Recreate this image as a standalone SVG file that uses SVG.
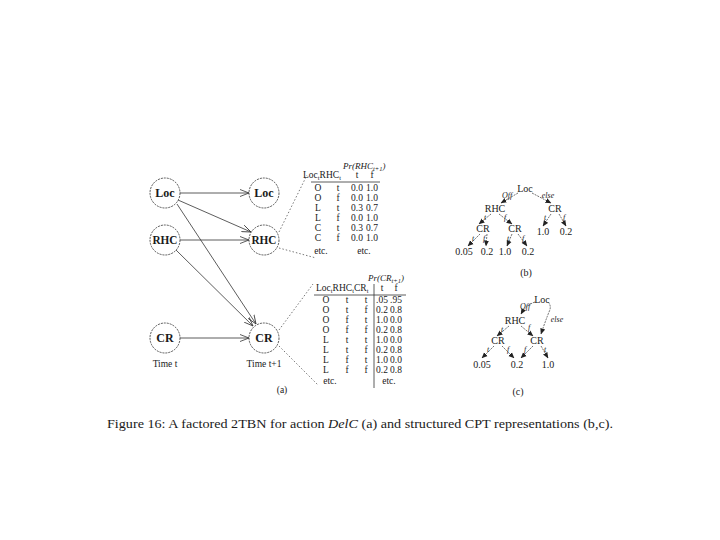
<svg xmlns="http://www.w3.org/2000/svg" width="720" height="540" viewBox="0 0 720 540">
<defs>
<style>
text{font-family:"Liberation Serif","DejaVu Serif",serif;fill:#1a1a1a}
.node circle{fill:#fff;stroke:#444;stroke-width:0.9;stroke-dasharray:2 1}
.nl{font-size:12px;text-anchor:middle;font-weight:bold}
.tb{font-size:9.5px;text-anchor:middle}
.tt{font-size:9px;font-style:italic}
.sub{font-size:6.5px}
.lab{font-size:8px;font-style:italic;text-anchor:middle}
.tv{font-size:10px;text-anchor:middle}
.e{stroke:#333;stroke-width:0.8;fill:none}
.dot{stroke:#555;stroke-width:0.8;stroke-dasharray:1.5 2;fill:none}
.te{stroke:#333;stroke-width:0.7;fill:none;stroke-dasharray:2 1}
</style>
<marker id="av" markerWidth="10" markerHeight="8" refX="9" refY="4" orient="auto" markerUnits="userSpaceOnUse">
<path d="M0,0.5 L9,4 L0,7.5" fill="none" stroke="#333" stroke-width="0.8"/>
</marker>
<marker id="af" markerWidth="6" markerHeight="6" refX="5.5" refY="3" orient="auto" markerUnits="userSpaceOnUse">
<path d="M0,0.5 L6,3 L0,5.5 z" fill="#222"/>
</marker>
</defs>
<rect width="720" height="540" fill="#fff"/>

<g id="connectors">
<line class="e" x1="180" y1="193" x2="249" y2="193" marker-end="url(#av)"/>
<line class="e" x1="178" y1="200" x2="251" y2="232" marker-end="url(#av)"/>
<line class="e" x1="177" y1="204" x2="256" y2="324" marker-end="url(#av)"/>
<line class="e" x1="180" y1="240" x2="249" y2="240" stroke-width="1.3" marker-end="url(#av)"/>
<line class="e" x1="176" y1="250" x2="253" y2="326" marker-end="url(#av)"/>
<line class="e" x1="180" y1="338" x2="249" y2="338" marker-end="url(#av)"/>
<line class="dot" x1="279" y1="232" x2="307" y2="175"/>
<line class="dot" x1="279" y1="248" x2="316" y2="258"/>
<line class="dot" x1="279" y1="330" x2="313" y2="284"/>
<line class="dot" x1="279" y1="346" x2="318" y2="385"/>
</g>

<g id="node-loc-t" class="node"><circle cx="165" cy="193" r="15"/><text class="nl" x="165" y="197">Loc</text></g>
<g id="node-rhc-t" class="node"><circle cx="165" cy="240" r="15"/><text class="nl" x="165" y="244" textLength="25" lengthAdjust="spacingAndGlyphs">RHC</text></g>
<g id="node-cr-t" class="node"><circle cx="165" cy="338" r="15"/><text class="nl" x="165" y="342">CR</text></g>
<g id="node-loc-t1" class="node"><circle cx="264" cy="193" r="15"/><text class="nl" x="264" y="197">Loc</text></g>
<g id="node-rhc-t1" class="node"><circle cx="264" cy="240" r="15"/><text class="nl" x="264" y="244" textLength="25" lengthAdjust="spacingAndGlyphs">RHC</text></g>
<g id="node-cr-t1" class="node"><circle cx="264" cy="338" r="15"/><text class="nl" x="264" y="342">CR</text></g>
<text class="tb" x="165" y="367" font-size="10">Time t</text>
<text class="tb" x="264" y="367" font-size="10">Time t+1</text>
<text class="tb" x="282" y="393" font-size="11">(a)</text>

<g id="table-rhc">
<text class="tt" x="343" y="169">Pr(RHC<tspan class="sub" dy="2">t+1</tspan><tspan dy="-2">)</tspan></text>
<text x="303" y="178" font-size="9.5">Loc<tspan class="sub" dy="2">t</tspan><tspan dy="-2">RHC</tspan><tspan class="sub" dy="2">t</tspan></text>
<text class="tb" x="357" y="178">t</text><text class="tb" x="372" y="178">f</text>
<line x1="311" y1="182" x2="380" y2="182" stroke="#333" stroke-width="0.8"/>
<g class="tb">
<text x="318" y="191">O</text><text x="338" y="191">t</text><text x="357" y="191">0.0</text><text x="372" y="191">1.0</text>
<text x="318" y="201">O</text><text x="338" y="201">f</text><text x="357" y="201">0.0</text><text x="372" y="201">1.0</text>
<text x="318" y="211">L</text><text x="338" y="211">t</text><text x="357" y="211">0.3</text><text x="372" y="211">0.7</text>
<text x="318" y="221">L</text><text x="338" y="221">f</text><text x="357" y="221">0.0</text><text x="372" y="221">1.0</text>
<text x="318" y="231">C</text><text x="338" y="231">t</text><text x="357" y="231">0.3</text><text x="372" y="231">0.7</text>
<text x="318" y="241">C</text><text x="338" y="241">f</text><text x="357" y="241">0.0</text><text x="372" y="241">1.0</text>
<text x="321" y="254">etc.</text><text x="364" y="254">etc.</text>
</g>
</g>

<g id="table-cr">
<text class="tt" x="368" y="281">Pr(CR<tspan class="sub" dy="2">t+1</tspan><tspan dy="-2">)</tspan></text>
<text x="316" y="291" font-size="9.5">Loc<tspan class="sub" dy="2">t</tspan><tspan dy="-2">RHC</tspan><tspan class="sub" dy="2">t</tspan><tspan dy="-2">CR</tspan><tspan class="sub" dy="2">t</tspan></text>
<text class="tb" x="382" y="291">t</text><text class="tb" x="396" y="291">f</text>
<line x1="314" y1="295" x2="406" y2="295" stroke="#333" stroke-width="0.8"/>
<line x1="374" y1="284" x2="374" y2="388" stroke="#333" stroke-width="0.8"/>
<g class="tb">
<text x="326" y="303">O</text><text x="347" y="303">t</text><text x="366" y="303">t</text><text x="382" y="303">.05</text><text x="396" y="303">.95</text>
<text x="326" y="313">O</text><text x="347" y="313">t</text><text x="366" y="313">f</text><text x="382" y="313">0.2</text><text x="396" y="313">0.8</text>
<text x="326" y="323">O</text><text x="347" y="323">f</text><text x="366" y="323">t</text><text x="382" y="323">1.0</text><text x="396" y="323">0.0</text>
<text x="326" y="333">O</text><text x="347" y="333">f</text><text x="366" y="333">f</text><text x="382" y="333">0.2</text><text x="396" y="333">0.8</text>
<text x="326" y="343">L</text><text x="347" y="343">t</text><text x="366" y="343">t</text><text x="382" y="343">1.0</text><text x="396" y="343">0.0</text>
<text x="326" y="353">L</text><text x="347" y="353">t</text><text x="366" y="353">f</text><text x="382" y="353">0.2</text><text x="396" y="353">0.8</text>
<text x="326" y="363">L</text><text x="347" y="363">f</text><text x="366" y="363">t</text><text x="382" y="363">1.0</text><text x="396" y="363">0.0</text>
<text x="326" y="373">L</text><text x="347" y="373">f</text><text x="366" y="373">f</text><text x="382" y="373">0.2</text><text x="396" y="373">0.8</text>
<text x="330" y="384">etc.</text><text x="389" y="384">etc.</text>
</g>
</g>

<g id="tree-b">
<text class="tv" x="525" y="192">Loc</text>
<text class="lab" x="507" y="198">Off</text><text class="lab" x="548" y="198">else</text>
<text class="tv" x="495" y="212">RHC</text><text class="tv" x="555" y="212">CR</text>
<text class="tv" x="483" y="232">CR</text><text class="tv" x="515" y="232">CR</text>
<text class="tv" x="543" y="235">1.0</text><text class="tv" x="566" y="235">0.2</text>
<text class="tv" x="464" y="255">0.05</text><text class="tv" x="487" y="255">0.2</text>
<text class="tv" x="505" y="255">1.0</text><text class="tv" x="528" y="255">0.2</text>
<g class="te">
<line x1="518" y1="193" x2="501" y2="203" marker-end="url(#af)"/>
<line x1="532" y1="193" x2="551" y2="203" marker-end="url(#af)"/>
<line x1="491" y1="214" x2="479" y2="224" marker-end="url(#af)"/>
<line x1="499" y1="214" x2="512" y2="224" marker-end="url(#af)"/>
<line x1="551" y1="214" x2="543" y2="226" marker-end="url(#af)"/>
<line x1="559" y1="214" x2="566" y2="226" marker-end="url(#af)"/>
<line x1="480" y1="234" x2="468" y2="246" marker-end="url(#af)"/>
<line x1="487" y1="234" x2="486" y2="246" marker-end="url(#af)"/>
<line x1="512" y1="234" x2="507" y2="246" marker-end="url(#af)"/>
<line x1="518" y1="234" x2="527" y2="246" marker-end="url(#af)"/>
</g>
<text class="lab" x="485" y="220">t</text><text class="lab" x="505" y="220">f</text>
<text class="lab" x="545" y="220">t</text><text class="lab" x="564" y="220">f</text>
<text class="lab" x="473" y="241">t</text><text class="lab" x="484" y="241">f</text>
<text class="lab" x="508" y="241">t</text><text class="lab" x="523" y="241">f</text>
<text class="tv" x="526" y="276" font-size="11">(b)</text>
</g>

<g id="tree-c">
<text class="tv" x="542" y="303">Loc</text>
<text class="lab" x="525" y="309">Off</text><text class="lab" x="557" y="322">else</text>
<text class="tv" x="515" y="324">RHC</text>
<text class="tv" x="498" y="344">CR</text><text class="tv" x="537" y="344">CR</text>
<text class="tv" x="482" y="368">0.05</text><text class="tv" x="517" y="368">0.2</text><text class="tv" x="548" y="368">1.0</text>
<g class="te">
<path d="M535,302 Q526,305 521,314" marker-end="url(#af)"/>
<path d="M548,302 Q552,306 549,312 Q545,322 541,334" marker-end="url(#af)"/>
<line x1="509" y1="326" x2="497" y2="336" marker-end="url(#af)"/>
<line x1="521" y1="326" x2="533" y2="336" marker-end="url(#af)"/>
<line x1="494" y1="346" x2="482" y2="358" marker-end="url(#af)"/>
<line x1="502" y1="346" x2="514" y2="358" marker-end="url(#af)"/>
<line x1="533" y1="346" x2="521" y2="358" marker-end="url(#af)"/>
<line x1="541" y1="346" x2="548" y2="358" marker-end="url(#af)"/>
</g>
<text class="lab" x="502" y="332">t</text><text class="lab" x="529" y="330">f</text>
<text class="lab" x="488" y="352">t</text><text class="lab" x="508" y="352">f</text>
<text class="lab" x="525" y="352">f</text><text class="lab" x="545" y="352">t</text>
<text class="tv" x="518" y="395" font-size="11">(c)</text>
</g>

<text x="107" y="428" font-size="13" textLength="506" lengthAdjust="spacingAndGlyphs">Figure 16:  A factored 2TBN for action <tspan font-style="italic">DelC</tspan> (a) and structured CPT representations (b,c).</text>
</svg>
